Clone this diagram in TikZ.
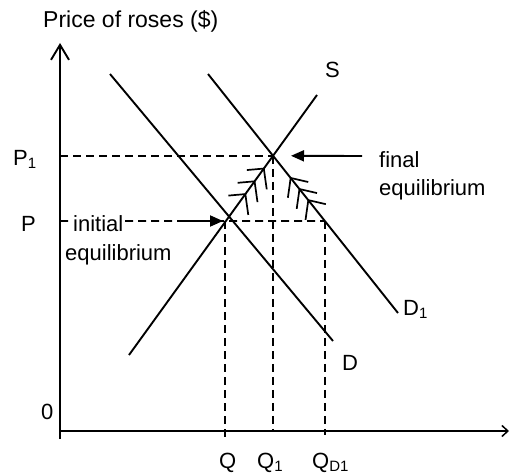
\documentclass[tikz,border=0pt]{standalone}
\usepackage{fontspec}
\setmainfont{Liberation Sans}
\usetikzlibrary{arrows.meta,calc}
\newcommand{\lowsub}[1]{\raisebox{-0.3ex}{\fontsize{15}{15}\selectfont #1}}
\begin{document}
\begin{tikzpicture}[x=1pt,y=1pt,
  curve/.style={line width=1.9pt},
  axis/.style={line width=1.9pt},
  guide/.style={line width=1.7pt,dash pattern=on 8pt off 5pt},
  lbl/.style={inner sep=0pt,font=\fontsize{22}{26}\selectfont},
  pointer/.style={line width=1.9pt,-{Triangle[length=13pt,width=11pt]}},
  feather/.style={line width=1.7pt}]
\useasboundingbox (0,0) rectangle (511,475);
% coordinates
\coordinate (O) at (60,44);
\coordinate (Ytop) at (60,432);
\coordinate (Ybot) at (60,36);
\coordinate (Xend) at (509,44);
\coordinate (Dt) at (110,401);
\coordinate (Db) at (333,134);
\coordinate (D1t) at (208,401);
\coordinate (D1b) at (398,162);
\coordinate (Sb) at (129,120);
\coordinate (St) at (317,380);
\coordinate (init) at (intersection of Sb--St and Dt--Db);
\coordinate (fin) at (intersection of Sb--St and D1t--D1b);
\coordinate (pP) at (60,254);
\coordinate (pPr) at (420,254);
\coordinate (qd1) at (intersection of pP--pPr and D1t--D1b);
\coordinate (pP1) at (O |- fin);
\coordinate (Qtop) at (225,254);
\coordinate (Qbot) at (225,34);
\coordinate (Q1bot) at (fin |- O);
\coordinate (QD1bot) at (qd1 |- 0,40);
% axes
\draw[axis,-{Straight Barb[length=15pt,width=18pt]}] (Ybot) -- (Ytop);
\draw[line width=1.5pt,-{Straight Barb[length=6pt,width=11pt]}] (O) -- (Xend);
% guides
\draw[guide] (pP1) -- (fin);
\draw[guide] (pP) -- (qd1);
\draw[guide] (Qtop) -- (Qbot);
\draw[guide] (fin) -- (Q1bot);
\draw[guide] (qd1) -- (QD1bot);
% curves
\draw[curve] (Dt) -- (Db);
\draw[curve] (D1t) -- (D1b);
\draw[curve] (Sb) -- (St);
% feathers along S
\foreach \p in {0.37,0.58,0.79}{
  \path (init) -- (fin) coordinate[pos=\p] (sv);
  \draw[feather] ($(sv)+(185:17)$) -- (sv) -- ($(sv)+(278:21)$);
}
% feathers along D1
\foreach \p in {0.32,0.49,0.66}{
  \path (qd1) -- (fin) coordinate[pos=\p] (dv);
  \draw[feather] ($(dv)+(347:18)$) -- (dv) -- ($(dv)+(262:20)$);
}
% labels
\node[lbl,anchor=base west,font=\fontsize{23}{27}\selectfont] (title) at (43,447) {Price of roses (\$)};
\node[lbl,anchor=base west] (lP1) at (13,310) {P\lowsub{1}};
\node[lbl,anchor=base west] (lP) at (21,244) {P};
\node[lbl,anchor=base west] (l0) at (41,56) {0};
\node[lbl,anchor=base west] (lQ) at (219,7) {Q};
\node[lbl,anchor=base west] (lQ1) at (257,7) {Q\lowsub{1}};
\node[lbl,anchor=base west] (lQD1) at (312,7) {Q\lowsub{D1}};
\node[lbl,anchor=base west] (lS) at (325,397) {S};
\node[lbl,anchor=base west] (lD1) at (403,160) {D\lowsub{1}};
\node[lbl,anchor=base west] (lD) at (342,105) {D};
\node[lbl,anchor=base west] (finA) at (379,308) {final};
\node[lbl,anchor=base west] (finB) at (379,280) {equilibrium};
\node[lbl,anchor=base west,fill=white,inner xsep=1pt,inner ysep=0.5pt] (iniA) at (72,244) {initial};
\node[lbl,anchor=base west] (iniB) at (65,215) {equilibrium};
% pointers
\coordinate (finTail) at (362,319);
\coordinate (iniTail) at (185,254);
\draw[pointer] (finTail) -- (fin -| 291,0);
\draw[pointer] (iniTail) -- (223,254);
\end{tikzpicture}
\end{document}
